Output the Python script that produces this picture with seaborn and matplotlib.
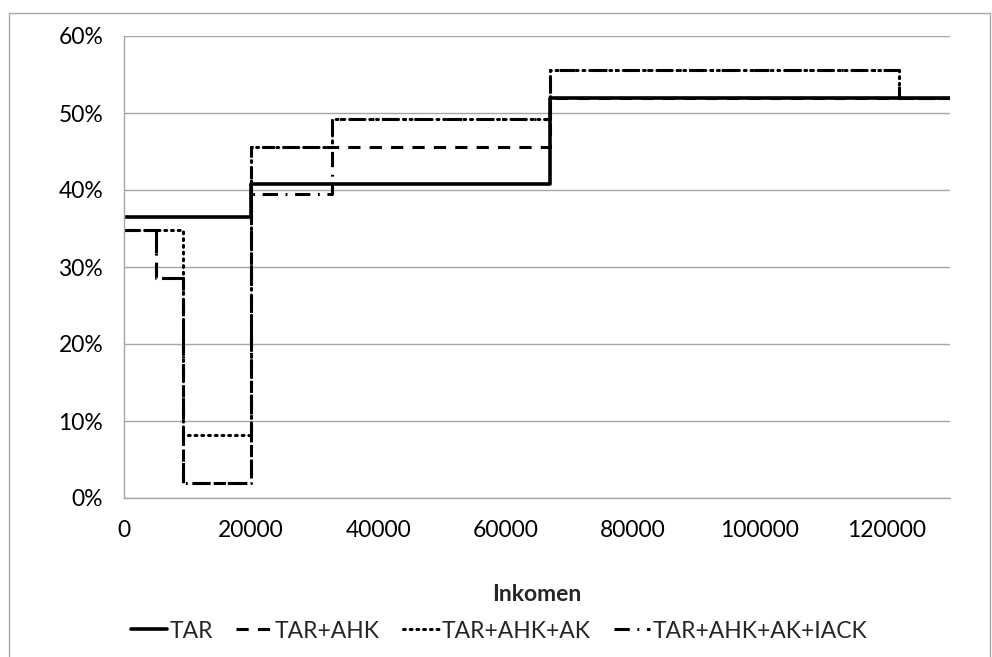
import matplotlib
matplotlib.use("Agg")
import matplotlib.pyplot as plt
import matplotlib.patches as mpatches
from matplotlib.ticker import FuncFormatter
import seaborn as sns
import pandas as pd

# ---- data (step functions: value holds from x until next x) ----
series_names = ["TAR", "TAR+AHK", "TAR+AHK+AK", "TAR+AHK+AK+IACK"]
x_tar = [0, 20000, 67000, 130000]
y_tar = [36.5, 40.8, 52.0, 52.0]
x_ahk = [0, 5000, 9300, 20000, 67000, 130000]
y_ahk = [34.8, 28.6, 2.0, 45.6, 52.0, 52.0]
x_ak = [0, 9300, 20000, 32700, 67000, 122000, 130000]
y_ak = [34.8, 8.2, 45.6, 49.2, 55.6, 52.0, 52.0]
x_iack = [0, 5000, 9300, 20000, 32700, 67000, 122000, 130000]
y_iack = [34.8, 28.6, 2.0, 39.5, 49.2, 55.6, 52.0, 52.0]
x_ticks = [0, 20000, 40000, 60000, 80000, 100000, 120000]
y_ticks = [0, 10, 20, 30, 40, 50, 60]

sns.set_style("white")
plt.rcParams["font.family"] = ["Lato", "DejaVu Sans"]
FS = 16.5

fig = plt.figure(figsize=(9.92, 6.57), dpi=100)
ax = fig.add_axes([124 / 992, 1 - 498 / 657, (950 - 124) / 992, (498 - 36) / 657])

styles = {
    "TAR": dict(linestyle="-", linewidth=2.6),
    "TAR+AHK": dict(linestyle=(0, (4, 3)), linewidth=2.2),
    "TAR+AHK+AK": dict(linestyle=(0, (0.6, 1.6)), linewidth=2.2, dash_capstyle="round"),
    "TAR+AHK+AK+IACK": dict(linestyle=(0, (5, 2.5, 0.6, 2.5)), linewidth=2.2),
}
data = {
    "TAR": (x_tar, y_tar),
    "TAR+AHK": (x_ahk, y_ahk),
    "TAR+AHK+AK": (x_ak, y_ak),
    "TAR+AHK+AK+IACK": (x_iack, y_iack),
}

for name in series_names:
    xs, ys = data[name]
    df = pd.DataFrame({"Inkomen": xs, "val": ys})
    sns.lineplot(data=df, x="Inkomen", y="val", ax=ax, color="black",
                 drawstyle="steps-post", label=name, estimator=None, sort=False,
                 **styles[name])

ax.set_xlim(0, 130000)
ax.set_ylim(0, 60)
ax.set_xticks(x_ticks)
ax.set_yticks(y_ticks)
ax.yaxis.set_major_formatter(FuncFormatter(lambda v, p: f"{int(v)}%"))
ax.xaxis.set_major_formatter(FuncFormatter(lambda v, p: f"{int(v)}"))
ax.grid(axis="y", color="#A6A6A6", linewidth=1)
ax.grid(axis="x", visible=False)
for s in ["top", "right"]:
    ax.spines[s].set_visible(False)
for s in ["left", "bottom"]:
    ax.spines[s].set_color("#A6A6A6")
    ax.spines[s].set_linewidth(1)
ax.tick_params(axis="both", which="both", direction="out", length=7, width=1,
               color="#A6A6A6", labelsize=FS, labelcolor="black")
ax.tick_params(axis="x", pad=9)
ax.tick_params(axis="y", pad=8)
ax.set_ylabel("")
ax.set_xlabel("Inkomen", fontsize=FS, fontweight="bold", labelpad=31)

leg = ax.legend(loc="center", bbox_to_anchor=(499 / 992, 1 - 631 / 657),
                bbox_transform=fig.transFigure, ncol=4, frameon=False, fontsize=FS,
                handlelength=1.6, handletextpad=0.1, columnspacing=1.0)

# chart area border
fig.patches.append(mpatches.Rectangle((9 / 992, -0.05), (990 - 9) / 992, 1.05 - 13 / 657,
                                      transform=fig.transFigure, fill=False,
                                      edgecolor="#A6A6A6", linewidth=1))

fig.savefig("out.png", dpi=100)
